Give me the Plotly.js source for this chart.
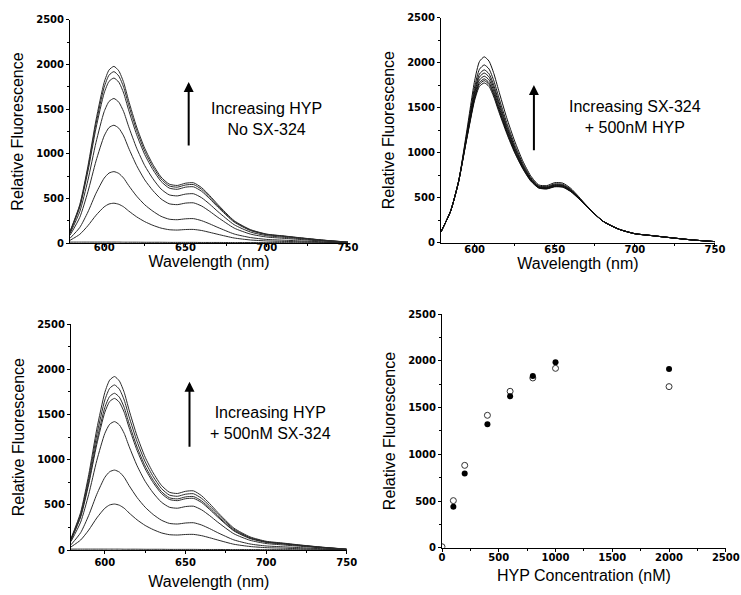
<!DOCTYPE html>
<html>
<head>
<meta charset="utf-8">
<script src="https://cdn.plot.ly/plotly-3.0.1.min.js"></script>
<style>
html,body{margin:0;padding:0;background:#fff;}
#chart{width:741px;height:595px;}
</style>
</head>
<body>
<div id="chart"></div>
<script>
// Wavelength grid (nm)
var wavelength = [579,585,590,595,600,603,606,609,612,615,620,625,630,635,640,645,650,655,660,665,670,680,690,700,710,720,735,750];

// Panel A: Increasing HYP, no SX-324
var a0 = [10,10,10,10,10,10,10,10,9,9,9,8,8,8,7,7,7,7,6,6,6,5,5,4,4,3,2,1];
var a1 = [30,97,194,311,405,437,446,434,405,360,293,239,198,167,149,145,151,152,140,119,97,56,34,23,18,14,7,2];
var a2 = [53,174,347,558,727,784,800,780,727,646,525,428,356,299,267,261,271,273,250,214,174,101,61,40,32,24,13,4];
var a3 = [87,287,574,920,1200,1294,1320,1287,1200,1067,867,707,587,494,440,430,447,450,414,354,287,167,100,67,53,40,21,7];
var a4 = [106,352,703,1129,1472,1587,1620,1579,1472,1309,1063,867,720,605,540,528,548,552,507,434,352,205,123,82,65,49,26,8];
var a5 = [121,402,803,1289,1681,1812,1849,1803,1681,1494,1214,990,822,691,616,602,626,630,579,495,402,234,140,93,75,56,30,9];
var a6 = [126,417,834,1339,1746,1882,1921,1872,1746,1552,1261,1028,854,718,640,626,650,655,601,514,417,243,146,97,78,58,31,10];
var a7 = [130,430,860,1380,1800,1940,1980,1930,1800,1600,1300,1060,880,740,660,645,670,675,620,530,430,250,150,100,80,60,32,10];

// Panel B: Increasing SX-324 + 500nM HYP
var b1 = [120,350,680,1143,1581,1736,1775,1736,1618,1460,1215,999,823,685,607,597,621,616,567,488,399,240,150,100,80,60,32,12];
var b2 = [120,350,680,1150,1600,1760,1800,1760,1640,1480,1230,1010,830,690,610,600,625,620,570,490,400,240,150,100,80,60,32,12];
var b3 = [120,350,680,1156,1615,1779,1820,1779,1658,1496,1242,1019,836,694,612,603,628,623,573,492,401,240,150,100,80,60,32,12];
var b4 = [120,350,680,1165,1638,1808,1850,1809,1685,1520,1260,1033,845,700,616,607,633,628,577,494,402,240,150,100,80,60,32,12];
var b5 = [120,350,680,1176,1664,1841,1885,1842,1717,1548,1281,1048,856,707,620,611,639,634,581,497,403,240,150,100,80,60,32,12];
var b6 = [120,350,680,1186,1690,1874,1920,1876,1748,1576,1302,1064,866,714,624,616,644,639,586,500,405,240,150,100,80,60,32,12];
var b7 = [120,350,680,1203,1731,1926,1975,1930,1798,1620,1335,1089,883,725,631,623,653,648,593,504,407,240,150,100,80,60,32,12];
var b8 = [120,350,680,1230,1799,2012,2065,2017,1879,1692,1389,1129,910,743,642,634,667,662,604,511,411,240,150,100,80,60,32,12];

// Panel C: Increasing HYP + 500nM SX-324
var c0 = [10,10,10,10,10,10,10,10,9,9,9,8,8,8,7,7,7,7,6,6,6,5,5,4,4,3,2,1];
var c1 = [34,111,221,355,463,499,509,496,463,411,334,272,226,190,170,166,172,173,159,136,111,64,39,26,21,15,8,3];
var c2 = [58,192,384,617,805,867,885,863,805,715,581,474,393,331,295,288,299,302,277,237,192,112,67,45,36,27,14,4];
var c3 = [94,309,617,991,1292,1393,1422,1386,1292,1149,933,761,632,531,474,463,481,485,445,381,309,180,108,72,57,43,23,7];
var c4 = [110,365,729,1170,1526,1645,1679,1637,1526,1357,1102,899,746,628,560,547,568,572,526,449,365,212,127,85,68,51,27,8];
var c5 = [115,377,754,1210,1579,1701,1736,1693,1579,1403,1140,930,772,649,579,566,588,592,544,465,377,219,132,88,70,53,28,9];
var c6 = [120,397,794,1274,1661,1791,1828,1781,1661,1477,1200,978,812,683,609,595,618,623,572,489,397,231,138,92,74,55,30,9];
var c7 = [127,417,834,1339,1746,1882,1921,1872,1746,1552,1261,1028,854,718,640,626,650,655,601,514,417,243,146,97,78,58,31,10];

// Panel D: peak fluorescence vs HYP concentration
var hypConc = [0,100,200,400,600,800,1000,2000];
var filledF = [0,439,796,1321,1621,1839,1986,1914];
var openF = [10,504,882,1418,1675,1818,1921,1725];

var panelA = [a0,a1,a2,a3,a4,a5,a6,a7];
var panelB = [b1,b2,b3,b4,b5,b6,b7,b8];
var panelC = [c0,c1,c2,c3,c4,c5,c6,c7];

var traces = [];
function addSpectra(set, xa, ya, color) {
  set.forEach(function (s) {
    traces.push({x: wavelength, y: s, xaxis: xa, yaxis: ya, type: 'scatter', mode: 'lines',
      line: {color: color, width: 1, shape: 'spline', smoothing: 0.6}, hoverinfo: 'skip', showlegend: false});
  });
}
addSpectra(panelA, 'x', 'y', '#2a2a2a');
addSpectra(panelB, 'x2', 'y2', '#111111');
addSpectra(panelC, 'x3', 'y3', '#2a2a2a');
traces.push({x: hypConc, y: openF, xaxis: 'x4', yaxis: 'y4', type: 'scatter', mode: 'markers',
  marker: {symbol: 'circle-open', size: 6, color: '#333', line: {width: 1, color: '#333'}}, showlegend: false});
traces.push({x: hypConc.slice(1), y: filledF.slice(1), xaxis: 'x4', yaxis: 'y4', type: 'scatter', mode: 'markers',
  marker: {symbol: 'circle', size: 6, color: '#000'}, showlegend: false});

var tickFont = {family: 'DejaVu Sans', size: 10, color: '#000', weight: 'bold'};
var titleFont = {family: 'Liberation Sans, Arial, sans-serif', size: 16, color: '#000'};

function xax(dom, anchor, range, dtick, minor, title, lblOff, titleOff) {
  return {domain: dom, anchor: anchor, range: range, dtick: dtick, tick0: 0,
    showline: true, linecolor: '#000', linewidth: 1, showgrid: false, zeroline: false,
    ticks: 'outside', ticklen: 3, tickwidth: 1, tickcolor: '#000', tickfont: tickFont,
    ticklabelstandoff: lblOff, ticklabeloverflow: 'allow',
    minor: {ticks: 'outside', ticklen: 2, dtick: minor, tick0: 0, tickcolor: '#000', showgrid: false},
    title: {text: title, font: titleFont, standoff: titleOff}};
}
function yax(dom, anchor) {
  return {domain: dom, anchor: anchor, range: [0, 2500], dtick: 500,
    showline: true, linecolor: '#000', linewidth: 1, showgrid: false, zeroline: false,
    ticks: 'outside', ticklen: 3, tickwidth: 1, tickcolor: '#000', tickfont: tickFont,
    minor: {ticks: 'outside', ticklen: 2, dtick: 250, tickcolor: '#000', showgrid: false},
    title: {text: 'Relative Fluorescence', font: titleFont, standoff: 8}};
}

var annFont = {family: 'Liberation Sans, Arial, sans-serif', size: 16, color: '#000'};
var layout = {
  width: 741, height: 595,
  margin: {l: 0, r: 0, t: 0, b: 0},
  paper_bgcolor: '#fff', plot_bgcolor: '#fff',
  showlegend: false,
  xaxis: xax([0.0945, 0.4696], 'y', [579, 750], 50, 25, 'Wavelength (nm)', -8, 1),
  yaxis: yax([0.5916, 0.9664], 'x'),
  xaxis2: xax([0.5951, 0.9649], 'y2', [579, 750], 50, 25, 'Wavelength (nm)', -6, 0),
  yaxis2: yax([0.5921, 0.9703], 'x2'),
  xaxis3: xax([0.0958, 0.4679], 'y3', [579, 750], 50, 25, 'Wavelength (nm)', 0, 8),
  yaxis3: yax([0.0756, 0.4550], 'x3'),
  xaxis4: xax([0.5965, 0.9795], 'y4', [0, 2500], 500, 250, 'HYP Concentration (nM)', -3, 8),
  yaxis4: yax([0.0795, 0.4718], 'x4'),
  annotations: [
    {xref: 'x', yref: 'y', x: 700, y: 1390, text: 'Increasing HYP<br>No SX-324', showarrow: false, font: annFont, align: 'center'},
    {xref: 'x', yref: 'y', x: 652, y: 1805, axref: 'x', ayref: 'y', ax: 652, ay: 1076, text: '', showarrow: true, arrowhead: 2, arrowsize: 1, arrowwidth: 2, arrowcolor: '#000'},
    {xref: 'x2', yref: 'y2', x: 700, y: 1400, text: 'Increasing SX-324<br>+ 500nM HYP', showarrow: false, font: annFont, align: 'center'},
    {xref: 'x2', yref: 'y2', x: 637, y: 1752, axref: 'x2', ayref: 'y2', ax: 637, ay: 1011, text: '', showarrow: true, arrowhead: 2, arrowsize: 1, arrowwidth: 2, arrowcolor: '#000'},
    {xref: 'x3', yref: 'y3', x: 703, y: 1403, text: 'Increasing HYP<br>+ 500nM SX-324', showarrow: false, font: annFont, align: 'center'},
    {xref: 'x3', yref: 'y3', x: 652.5, y: 1864, axref: 'x3', ayref: 'y3', ax: 652.5, ay: 1127, text: '', showarrow: true, arrowhead: 2, arrowsize: 1, arrowwidth: 2, arrowcolor: '#000'}
  ]
};

Plotly.newPlot('chart', traces, layout, {staticPlot: true, displayModeBar: false});
</script>
</body>
</html>
